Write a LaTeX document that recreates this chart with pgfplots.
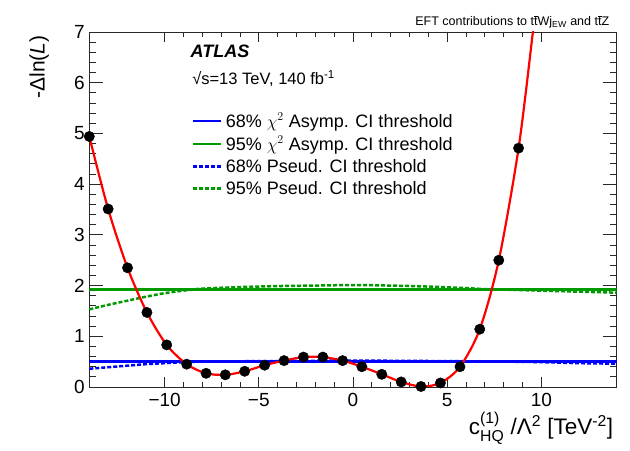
\documentclass[border=0pt]{standalone}
\usepackage{pgfplots}
\pgfplotsset{compat=1.18}
\usepackage{amsmath}
\usepackage{fontspec}
\setmainfont{Liberation Sans}

\definecolor{rootgreen}{RGB}{0,155,0}
\definecolor{axgray}{RGB}{40,40,40}
\newcommand{\tbar}{\ensuremath{\overline{\mbox{t}}}}

\begin{document}
\begin{tikzpicture}
\begin{axis}[name=ax, scale only axis, width=527.4pt, height=355pt,
  xmin=-14, xmax=14, ymin=0, ymax=7,
  xtick={-10,-5,0,5,10}, xticklabels={−10,−5,0,5,10},
  ytick={0,1,2,3,4,5,6,7},
  minor x tick num=4, minor y tick num=4,
  tick align=inside,
  axis line style={axgray, line width=0.9pt},
  every tick/.style={axgray, line width=0.8pt},
  x tick style={/pgfplots/major tick length=10pt, /pgfplots/minor tick length=5pt},
  y tick style={/pgfplots/major tick length=14pt, /pgfplots/minor tick length=7pt},
  /pgf/number format/assume math mode=true,
  ticklabel style={font=\fontsize{19}{21}\selectfont},
  xticklabel shift=3pt, yticklabel shift=1pt,
  xlabel={c$^{\text{(1)}}_{\text{HQ}}$ /Λ\textsuperscript{2} [TeV\textsuperscript{-2}]},
  xlabel style={font=\fontsize{22.5}{25}\selectfont, at={(axis description cs:1.0,-0.062)}, anchor=north east},
  ylabel={-Δln(\textit{L})},
  ylabel style={font=\fontsize{21}{24}\selectfont, at={(axis description cs:-0.095,1)}, anchor=east, rotate=0},
  legend style={draw=none, fill=none, at={(axis description cs:0.194,0.778)}, anchor=north west,
    font=\fontsize{18}{20}\selectfont, inner sep=0pt, row sep=3.5pt,
    nodes={inner xsep=3.5pt, inner ysep=2pt}},
  legend cell align=left,
  legend image code/.code={\draw[#1] (0pt,0pt) -- (28pt,0pt);},
]
\addplot[blue, line width=2.4pt] coordinates {(-14,0.5) (14,0.5)};
\addlegendentry{68\% $\chi^{2}$ Asymp. CI threshold}
\addplot[rootgreen, line width=2.4pt] coordinates {(-14,1.92) (14,1.92)};
\addlegendentry{95\% $\chi^{2}$ Asymp. CI threshold}
\addplot[blue, line width=2.5pt, dash pattern=on 4pt off 2pt, smooth] coordinates {
  (-14,0.36) (-13,0.39) (-12,0.42) (-11,0.45) (-10,0.47) (-9,0.49) (-8,0.50)
  (-5,0.51) (0,0.52) (5,0.51) (8,0.50) (10,0.49) (12,0.47) (14,0.46)};
\addlegendentry{68\% Pseud. CI threshold}
\addplot[rootgreen, line width=2.5pt, dash pattern=on 4pt off 2pt, smooth] coordinates {
  (-14,1.53) (-13,1.62) (-12,1.70) (-11,1.78) (-10,1.85) (-9,1.90) (-8,1.94)
  (-6,1.97) (-4,1.99) (-2,2.00) (0,2.01) (2,2.00) (4,1.98) (6,1.95) (7,1.93)
  (8,1.92) (10,1.90) (12,1.88) (14,1.86)};
\addlegendentry{95\% Pseud. CI threshold}
% likelihood scan
\addplot[red, line width=2.2pt, smooth, forget plot] coordinates {
  (-14.0,4.94) (-13.0,3.51) (-11.97,2.35) (-10.94,1.47) (-9.89,0.83) (-8.83,0.45)
  (-7.80,0.27) (-6.78,0.24) (-5.75,0.31) (-4.69,0.43) (-3.66,0.52) (-2.63,0.59)
  (-1.60,0.59) (-0.55,0.52) (0.47,0.40) (1.53,0.25) (2.56,0.10) (3.61,0.01)
  (4.64,0.08) (5.68,0.40) (6.73,1.14) (7.74,2.50) (8.79,4.71) (9.55,7.0) (9.7,7.5)};
\addplot[only marks, mark=*, mark size=5.2pt, black, forget plot] coordinates {
  (-14.0,4.94) (-13.0,3.51) (-11.97,2.35) (-10.94,1.47) (-9.89,0.83) (-8.83,0.45)
  (-7.80,0.27) (-6.78,0.24) (-5.75,0.31) (-4.69,0.43) (-3.66,0.52) (-2.63,0.59)
  (-1.60,0.59) (-0.55,0.52) (0.47,0.40) (1.53,0.25) (2.56,0.10) (3.61,0.01)
  (4.64,0.08) (5.68,0.40) (6.73,1.14) (7.74,2.50) (8.79,4.71)};
\node[anchor=west, inner sep=1pt, font=\fontsize{18}{20}\selectfont\bfseries\itshape] at (axis description cs:0.19,0.946) {ATLAS};
\node[anchor=west, inner sep=1pt, font=\fontsize{16.5}{19}\selectfont] at (axis description cs:0.193,0.868) {√s=13 TeV, 140 fb\textsuperscript{-1}};
\end{axis}
\node[anchor=base east, font=\fontsize{12.5}{14}\selectfont] at ([xshift=-4pt,yshift=6pt]ax.north east) {EFT contributions to t\tbar Wj\textsubscript{EW} and t\tbar Z};
\pgfresetboundingbox
\path[use as bounding box] ([shift={(-89.3pt,-64pt)}]ax.south west) rectangle ([shift={(13.3pt,32pt)}]ax.north east);
\end{tikzpicture}
\end{document}
